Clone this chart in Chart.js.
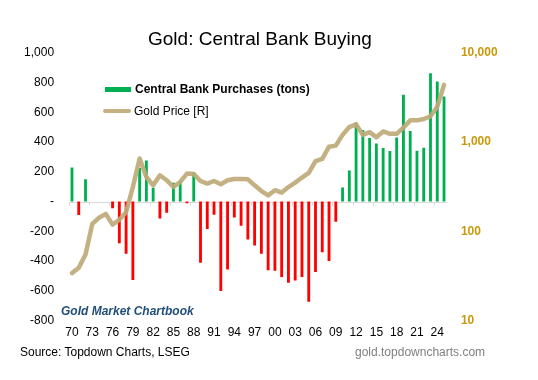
<!DOCTYPE html>
<html lang="en">
<head>
    <meta charset="UTF-8">
    <title>Gold: Central Bank Buying</title>
    <script src="https://cdn.jsdelivr.net/npm/chart.js"></script>
    <style>
        body { margin: 0; background: #fff; font-family: "Liberation Sans", Arial, sans-serif; }
        .wrap { position: relative; width: 538px; height: 380px; }
        #chart { position: absolute; left: 0; top: 0; }
        .txt { position: absolute; white-space: nowrap; line-height: 1; }
        .title { left: 148px; top: 29px; font-size: 19px; color: #000; }
        .brand { left: 61px; top: 305px; font-size: 12px; font-weight: bold; font-style: italic; color: #1F4E79; }
        .source { left: 20px; top: 346px; font-size: 12px; color: #000; }
        .site { left: 355px; top: 346px; font-size: 12px; color: #7F7F7F; }
        .leg { position: absolute; left: 103px; font-size: 12px; color: #000; display: flex; align-items: center; }
        .leg .bar { width: 26px; height: 5px; background: #00B050; margin: 0 4px 0 2px; }
        .leg .line { width: 28px; height: 4px; border-radius: 2px; background: #C4B283; margin-right: 3px; }
    </style>
</head>
<body>
    <div class="wrap">
        <canvas id="chart" width="538" height="380"></canvas>
        <div class="txt title">Gold: Central Bank Buying</div>
        <div class="leg" style="top: 82px;"><span class="bar"></span><b>Central Bank Purchases (tons)</b></div>
        <div class="leg" style="top: 104px;"><span class="line"></span>Gold Price [R]</div>
        <div class="txt brand">Gold Market Chartbook</div>
        <div class="txt source">Source: Topdown Charts, LSEG</div>
        <div class="txt site">gold.topdowncharts.com</div>
    </div>

    <script>
        // years 1970 - 2025
        var years = [];
        for (var y = 1970; y <= 2025; y++) years.push(String(y));

        // central bank net purchases (tons)
        var purchases = [
            230, -90, 150, 0, 0, 0, -44, -280, -351, -528,     // 1970s
            226, 277, 93, -113, -75, 127, 138, -11, 198, -411, // 1980s
            -184, -89, -602, -457, -107, -162, -255, -295, -351, -462, // 1990s
            -466, -508, -546, -531, -508, -673, -473, -340, -400, -135, // 2000s
            95, 209, 533, 482, 428, 391, 360, 340, 431, 719,   // 2010s
            475, 342, 362, 864, 808, 708                       // 2020s
        ];

        // gold price, USD/oz (right axis, log)
        var goldPrice = [
            34, 39, 55, 121, 142, 157, 119, 135, 164, 314,
            656, 407, 328, 425, 374, 314, 358, 444, 440, 367,
            343, 367, 337, 374, 386, 386, 383, 328, 283, 253,
            289, 272, 314, 352, 401, 452, 612, 650, 890, 915,
            1207, 1478, 1584, 1207, 1295, 1137, 1318, 1240, 1240, 1453,
            1756, 1756, 1820, 1950, 2485, 4400
        ];

        var leftTicks = [-800, -600, -400, -200, 0, 200, 400, 600, 800, 1000];
        var rightTicks = [10, 100, 1000, 10000];

        var font = { family: '"Liberation Sans", Arial, sans-serif', size: 12 };

        // draws the zero line with small ticks every 3 years
        var zeroAxis = {
            id: 'zeroAxis',
            beforeDatasetsDraw: function (chart) {
                var ctx = chart.ctx, x = chart.scales.x, yl = chart.scales.y;
                var y0 = Math.round(yl.getPixelForValue(0)) + 0.5;
                var half = (x.getPixelForValue(1) - x.getPixelForValue(0)) / 2;
                ctx.save();
                ctx.strokeStyle = '#D9D9D9';
                ctx.lineWidth = 1;
                ctx.beginPath();
                ctx.moveTo(chart.chartArea.left, y0);
                ctx.lineTo(chart.chartArea.right, y0);
                for (var i = 0; i < years.length; i += 3) {
                    var px = Math.round(x.getPixelForValue(i) - half) + 0.5;
                    ctx.moveTo(px, y0);
                    ctx.lineTo(px, y0 + 3);
                }
                ctx.stroke();
                ctx.restore();
            }
        };

        var ctx = document.getElementById('chart').getContext('2d');
        var chart = new Chart(ctx, {
            type: 'bar',
            data: {
                labels: years,
                datasets: [{
                    type: 'line',
                    label: 'Gold Price [R]',
                    data: goldPrice,
                    yAxisID: 'y1',
                    borderColor: 'rgba(190, 170, 120, 0.92)',
                    borderWidth: 4.5,
                    pointRadius: 0,
                    tension: 0,
                    borderJoinStyle: 'round',
                    borderCapStyle: 'round',
                    order: 0
                }, {
                    label: 'Central Bank Purchases (tons)',
                    data: purchases,
                    yAxisID: 'y',
                    backgroundColor: purchases.map(function (v) { return v >= 0 ? '#00B050' : '#FF0000'; }),
                    barPercentage: 0.42,
                    categoryPercentage: 1,
                    order: 1
                }]
            },
            options: {
                responsive: false,
                animation: false,
                layout: { padding: { top: 53, bottom: 0, left: 0, right: 0 } },
                plugins: { legend: { display: false }, tooltip: { enabled: false } },
                scales: {
                    x: {
                        grid: { display: false, drawTicks: false },
                        border: { display: false },
                        afterFit: function (s) { s.height = 59.5; },
                        ticks: {
                            autoSkip: false,
                            maxRotation: 0,
                            padding: 5,
                            color: '#000',
                            font: font,
                            callback: function (v, i) {
                                return (i % 3 === 0) ? years[i].slice(2) : '';
                            }
                        }
                    },
                    y: {
                        position: 'left',
                        min: -800,
                        max: 1000,
                        grid: { display: false, drawTicks: false },
                        border: { display: false },
                        afterFit: function (s) { s.width = 68.6; },
                        afterBuildTicks: function (s) { s.ticks = leftTicks.map(function (v) { return { value: v }; }); },
                        ticks: {
                            padding: 14.5,
                            color: '#000',
                            font: font,
                            callback: function (v) { return v === 0 ? '-' : v.toLocaleString('en-US'); }
                        }
                    },
                    y1: {
                        type: 'logarithmic',
                        position: 'right',
                        min: 10,
                        max: 10000,
                        grid: { display: false, drawTicks: false },
                        border: { display: false },
                        afterFit: function (s) { s.width = 90.6; },
                        afterBuildTicks: function (s) { s.ticks = rightTicks.map(function (v) { return { value: v }; }); },
                        ticks: {
                            padding: 13.5,
                            color: '#C8990A',
                            font: { family: font.family, size: 12, weight: 'bold' },
                            callback: function (v) { return v.toLocaleString('en-US'); }
                        }
                    }
                }
            },
            plugins: [zeroAxis]
        });
    </script>
</body>
</html>
